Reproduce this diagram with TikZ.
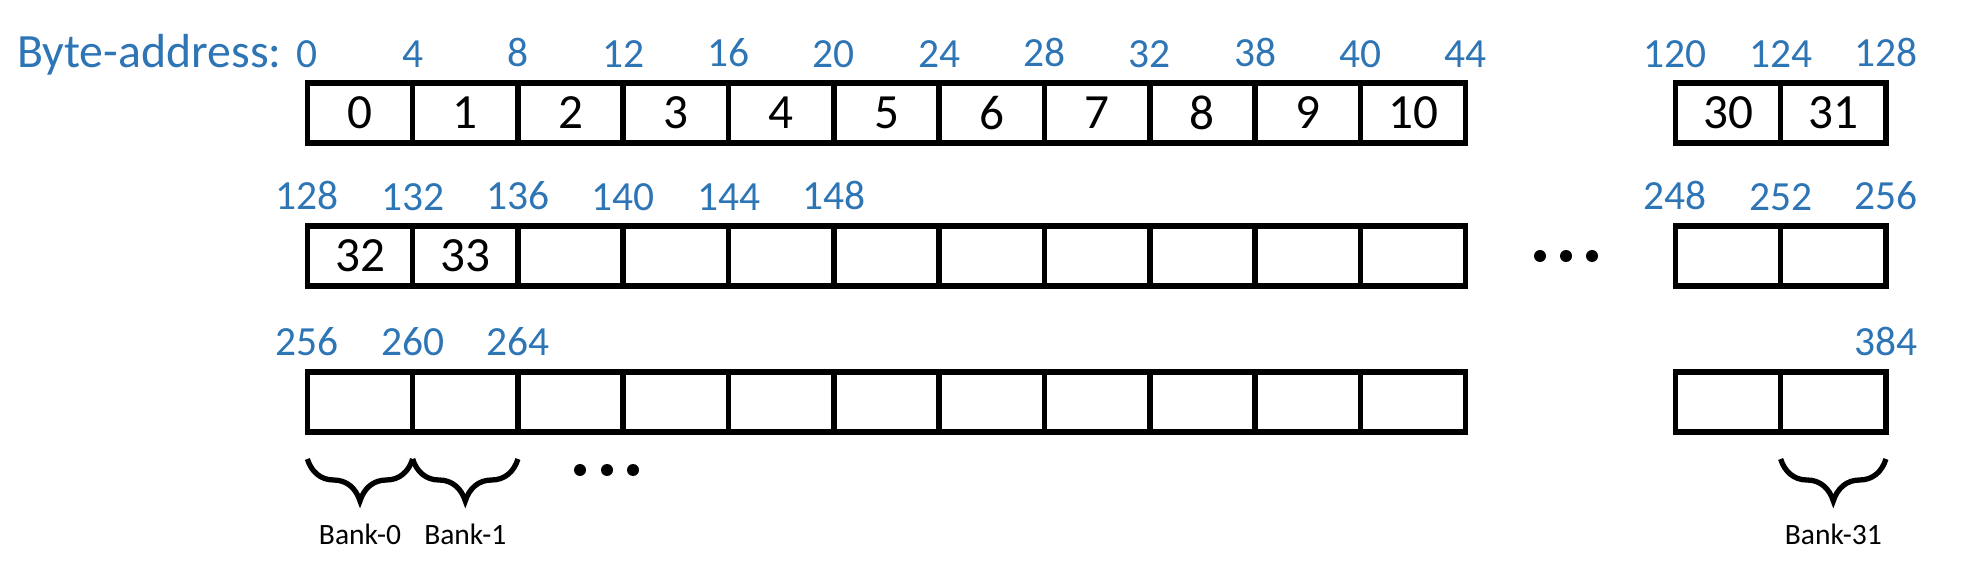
\documentclass[tikz,border=0pt]{standalone}
\usepackage{fontspec}
\setmainfont{Carlito}
\usetikzlibrary{positioning,decorations.pathreplacing}
\definecolor{addrblue}{HTML}{2E75B6}

\begin{document}
\begin{tikzpicture}[
  cell/.style={draw,line width=1.6pt,minimum width=1.053cm,minimum height=0.6cm,inner sep=0pt,outer sep=0pt,font=\fontsize{14}{16}\selectfont},
  addr/.style={text=addrblue,inner sep=0pt,font=\fontsize{11.8}{13}\selectfont},
  dot/.style={circle,fill=black,inner sep=0pt,minimum size=0.12cm},
  bankbrace/.style={decorate,decoration={brace,amplitude=0.42cm},line width=1.5pt},
  bank/.style={inner sep=0pt,font=\fontsize{8.4}{10}\selectfont}
]
  \useasboundingbox (0,0) rectangle (19.66,-5.72);

  % first row
  \node[cell] (c0) at (3.60,-1.13) {0};
  \node[cell,right=0pt of c0] (c1) {1};
  \node[cell,right=0pt of c1] (c2) {2};
  \node[cell,right=0pt of c2] (c3) {3};
  \node[cell,right=0pt of c3] (c4) {4};
  \node[cell,right=0pt of c4] (c5) {5};
  \node[cell,right=0pt of c5] (c6) {6};
  \node[cell,right=0pt of c6] (c7) {7};
  \node[cell,right=0pt of c7] (c8) {8};
  \node[cell,right=0pt of c8] (c9) {9};
  \node[cell,right=0pt of c9] (c10) {10};
  \node[cell] (c30) at (17.28,-1.13) {30};
  \node[cell,right=0pt of c30] (c31) {31};

  \node[addr,above=0.15cm of c0.north west] (a0) {0};
  \node[addr,above=0.15cm of c1.north west] (a4) {4};
  \node[addr,above=0.15cm of c2.north west] (a8) {8};
  \node[addr,above=0.15cm of c3.north west] (a12) {12};
  \node[addr,above=0.15cm of c4.north west] (a16) {16};
  \node[addr,above=0.15cm of c5.north west] (a20) {20};
  \node[addr,above=0.15cm of c6.north west] (a24) {24};
  \node[addr,above=0.15cm of c7.north west] (a28) {28};
  \node[addr,above=0.15cm of c8.north west] (a32) {32};
  \node[addr,above=0.15cm of c9.north west] (a38) {38};
  \node[addr,above=0.15cm of c10.north west] (a40) {40};
  \node[addr,above=0.15cm of c10.north east] (a44) {44};
  \node[addr,above=0.15cm of c30.north west] (a120) {120};
  \node[addr,above=0.15cm of c31.north west] (a124) {124};
  \node[addr,above=0.15cm of c31.north east] (a128) {128};
  \node[addr,base left=0.14cm of a0,font=\fontsize{13.6}{15}\selectfont] (title) {Byte-address:};

  % second row
  \node[cell] (d0) at (3.60,-2.56) {32};
  \node[cell,right=0pt of d0] (d1) {33};
  \node[cell,right=0pt of d1] (d2) {};
  \node[cell,right=0pt of d2] (d3) {};
  \node[cell,right=0pt of d3] (d4) {};
  \node[cell,right=0pt of d4] (d5) {};
  \node[cell,right=0pt of d5] (d6) {};
  \node[cell,right=0pt of d6] (d7) {};
  \node[cell,right=0pt of d7] (d8) {};
  \node[cell,right=0pt of d8] (d9) {};
  \node[cell,right=0pt of d9] (d10) {};
  \node[cell] (d30) at (17.28,-2.56) {};
  \node[cell,right=0pt of d30] (d31) {};

  \node[addr,above=0.15cm of d0.north west] (b128) {128};
  \node[addr,above=0.15cm of d1.north west] (b132) {132};
  \node[addr,above=0.15cm of d2.north west] (b136) {136};
  \node[addr,above=0.15cm of d3.north west] (b140) {140};
  \node[addr,above=0.15cm of d4.north west] (b144) {144};
  \node[addr,above=0.15cm of d5.north west] (b148) {148};
  \node[addr,above=0.15cm of d30.north west] (b248) {248};
  \node[addr,above=0.15cm of d31.north west] (b252) {252};
  \node[addr,above=0.15cm of d31.north east] (b256) {256};

  \node[dot] (gap1) at (15.40,-2.56) {};
  \node[dot] (gap2) at (15.66,-2.56) {};
  \node[dot] (gap3) at (15.92,-2.56) {};

  % third row
  \node[cell] (e0) at (3.60,-4.02) {};
  \node[cell,right=0pt of e0] (e1) {};
  \node[cell,right=0pt of e1] (e2) {};
  \node[cell,right=0pt of e2] (e3) {};
  \node[cell,right=0pt of e3] (e4) {};
  \node[cell,right=0pt of e4] (e5) {};
  \node[cell,right=0pt of e5] (e6) {};
  \node[cell,right=0pt of e6] (e7) {};
  \node[cell,right=0pt of e7] (e8) {};
  \node[cell,right=0pt of e8] (e9) {};
  \node[cell,right=0pt of e9] (e10) {};
  \node[cell] (e30) at (17.28,-4.02) {};
  \node[cell,right=0pt of e30] (e31) {};

  \node[addr,above=0.15cm of e0.north west] (f256) {256};
  \node[addr,above=0.15cm of e1.north west] (f260) {260};
  \node[addr,above=0.15cm of e2.north west] (f264) {264};
  \node[addr,above=0.15cm of e31.north east] (f384) {384};

  \node[dot] (more1) at (5.80,-4.70) {};
  \node[dot] (more2) at (6.07,-4.70) {};
  \node[dot] (more3) at (6.33,-4.70) {};

  % banks
  \draw[bankbrace] ([yshift=-0.27cm]e0.south east) -- ([yshift=-0.27cm]e0.south west)
    node[bank,midway,below=0.62cm] (bank0) {Bank-0};
  \draw[bankbrace] ([yshift=-0.27cm]e1.south east) -- ([yshift=-0.27cm]e1.south west)
    node[bank,midway,below=0.62cm] (bank1) {Bank-1};
  \draw[bankbrace] ([yshift=-0.27cm]e31.south east) -- ([yshift=-0.27cm]e31.south west)
    node[bank,midway,below=0.62cm] (bank31) {Bank-31};
\end{tikzpicture}
\end{document}
